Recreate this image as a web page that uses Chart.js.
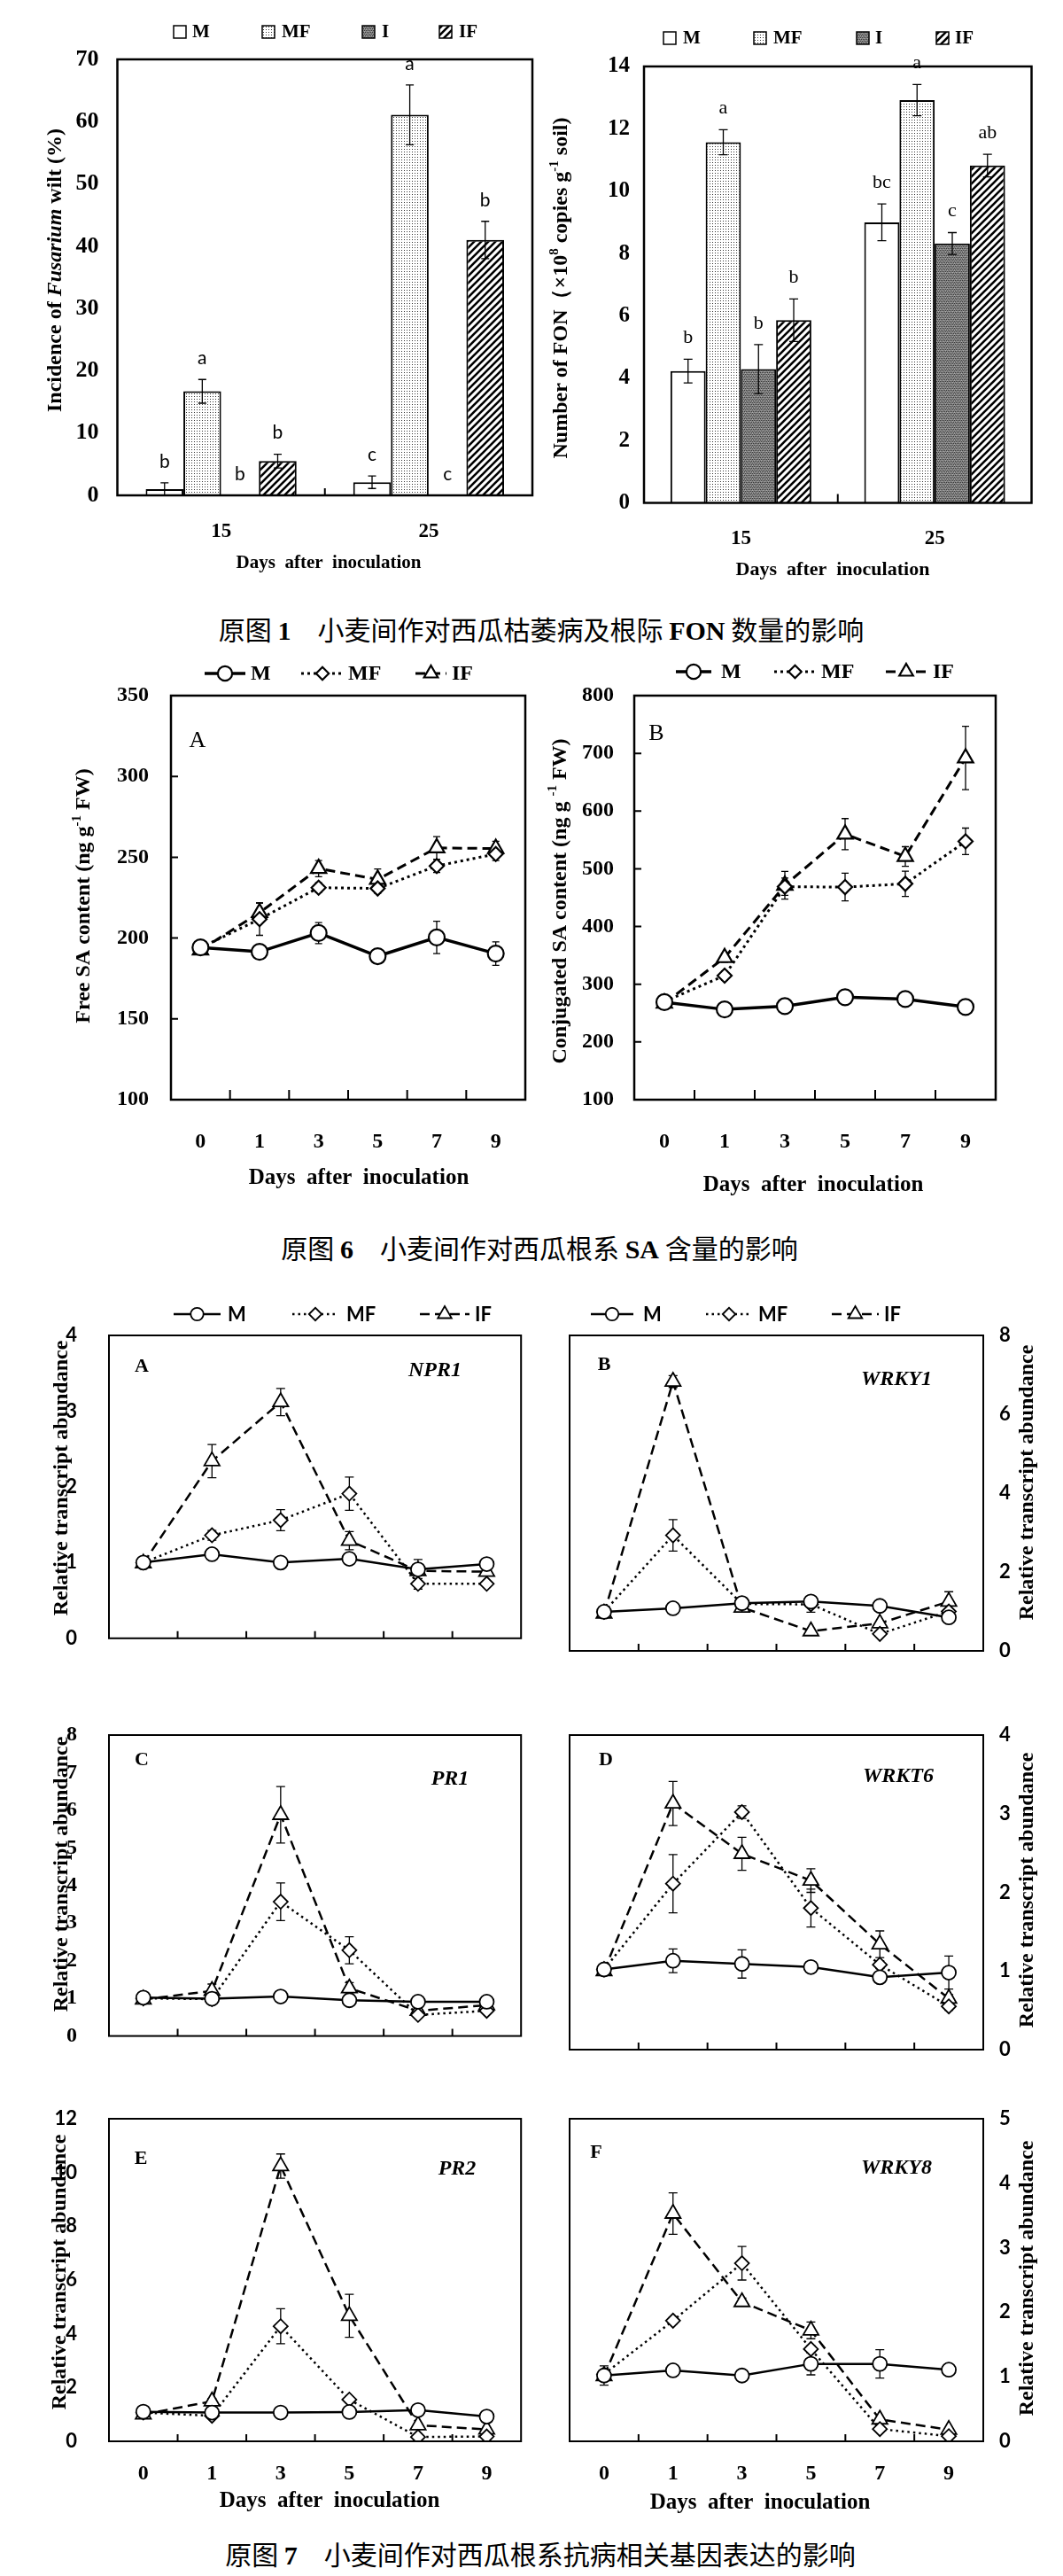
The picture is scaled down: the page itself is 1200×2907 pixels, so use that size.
<!DOCTYPE html>
<html><head><meta charset="utf-8"><title>Figures</title>
<script src="https://cdn.jsdelivr.net/npm/chart.js@4.4.1/dist/chart.umd.min.js"></script>
<style>
html,body{margin:0;padding:0;background:#fff;}
#page{position:relative;width:1200px;height:2907px;background:#fff;overflow:hidden;}
#page canvas{position:absolute;}
.cap{position:absolute;transform:translate(-50%,-50%);white-space:nowrap;font-family:"Noto Sans CJK SC",sans-serif;font-size:30px;line-height:1;color:#000;}
.cap b{font-family:"Liberation Serif",serif;font-weight:bold;}
</style></head><body><div id="page">
<div class="cap" style="left:611px;top:710px">原图 <b>1</b>　小麦间作对西瓜枯萎病及根际 <b>FON</b> 数量的影响</div>
<div class="cap" style="left:609px;top:1408px">原图 <b>6</b>　小麦间作对西瓜根系 <b>SA</b> 含量的影响</div>
<div class="cap" style="left:610px;top:2882px">原图 <b>7</b>　小麦间作对西瓜根系抗病相关基因表达的影响</div>
</div>
<script>
// ================= DATA =================
const barDays = ['15', '25'];
const barNames = ['M', 'MF', 'I', 'IF'];
// Fig 1 left: incidence of Fusarium wilt (%)
const wiltM = [1.0, 2.1];
const wiltMF = [16.7, 61.1];
const wiltI = [0, 0];
const wiltIF = [5.5, 41.0];
const wiltErrM = [1.0, 1.0];
const wiltErrMF = [1.9, 4.8];
const wiltErrI = [0, 0];
const wiltErrIF = [1.1, 3.0];
const wiltLetM = ['b', 'c'];
const wiltLetMF = ['a', 'a'];
const wiltLetI = ['b', 'c'];
const wiltLetIF = ['b', 'b'];
const wiltRange = [0, 70, 10];
// Fig 1 right: number of FON
const fonM = [4.23, 9.0];
const fonMF = [11.57, 12.92];
const fonI = [4.29, 8.32];
const fonIF = [5.86, 10.82];
const fonErrM = [0.38, 0.59];
const fonErrMF = [0.40, 0.50];
const fonErrI = [0.79, 0.35];
const fonErrIF = [0.68, 0.36];
const fonLetM = ['b', 'bc'];
const fonLetMF = ['a', 'a'];
const fonLetI = ['b', 'c'];
const fonLetIF = ['b', 'ab'];
const fonRange = [0, 14, 2];

const days = ['0', '1', '3', '5', '7', '9'];
const lineNames = ['M', 'MF', 'IF'];
// Fig 6 A free SA
const freeM = [194.2, 191.5, 203.1, 188.8, 200.4, 190.4];
const freeMF = [194.0, 211.7, 231.2, 230.7, 244.6, 252.0];
const freeIF = [192.6, 215.7, 243.0, 236.3, 255.8, 255.4];
const freeErrM = [2, 2, 6.5, 2, 10, 7.3];
const freeErrMF = [2, 10, 3, 3, 4, 4];
const freeErrIF = [2, 6, 5, 6.5, 7, 4.5];
const freeRange = [100, 350, 50];
// Fig 6 B conjugated SA
const conjM = [269, 256.4, 262, 277.5, 274.4, 260.7];
const conjMF = [270, 315, 469, 468.3, 474, 547.5];
const conjIF = [267, 346, 471.4, 560, 521.3, 692];
const conjErrM = [4, 12, 5, 5, 5, 5];
const conjErrMF = [3, 8, 15, 24, 22, 23];
const conjErrIF = [3, 8, 24, 27, 17, 55];
const conjRange = [100, 800, 100];
// Fig 7 A NPR1
const npr1M = [1.0, 1.11, 1.0, 1.05, 0.91, 0.98];
const npr1MF = [1.0, 1.36, 1.56, 1.91, 0.72, 0.72];
const npr1IF = [0.99, 2.34, 3.12, 1.29, 0.89, 0.88];
const npr1ErrM = [0.02, 0.05, 0.02, 0.03, 0.03, 0.03];
const npr1ErrMF = [0.02, 0.065, 0.14, 0.22, 0.07, 0.03];
const npr1ErrIF = [0.02, 0.22, 0.18, 0.12, 0.15, 0.03];
const npr1Range = [0, 4, 1];
// Fig 7 B WRKY1
const wrky1M = [0.99, 1.08, 1.21, 1.25, 1.14, 0.85];
const wrky1MF = [0.99, 2.93, 1.19, 1.18, 0.43, 1.0];
const wrky1IF = [0.95, 6.83, 1.1, 0.5, 0.7, 1.25];
const wrky1ErrM = [0.02, 0.03, 0.03, 0.05, 0.05, 0.03];
const wrky1ErrMF = [0.02, 0.4, 0.03, 0.2, 0.05, 0.05];
const wrky1ErrIF = [0.02, 0.15, 0.03, 0.03, 0.05, 0.25];
const wrky1Range = [0, 8, 2];
// Fig 7 C PR1
const pr1M = [1.02, 0.99, 1.05, 0.95, 0.91, 0.91];
const pr1MF = [1.0, 0.98, 3.57, 2.28, 0.56, 0.67];
const pr1IF = [0.97, 1.2, 5.88, 1.27, 0.67, 0.82];
const pr1ErrM = [0.02, 0.03, 0.03, 0.03, 0.03, 0.03];
const pr1ErrMF = [0.02, 0.1, 0.5, 0.36, 0.05, 0.05];
const pr1ErrIF = [0.02, 0.18, 0.75, 0.15, 0.05, 0.05];
const pr1Range = [0, 8, 1];
// Fig 7 D WRKT6
const wrkt6M = [1.02, 1.13, 1.09, 1.05, 0.92, 0.98];
const wrkt6MF = [1.02, 2.11, 3.02, 1.8, 1.08, 0.55];
const wrkt6IF = [1.0, 3.13, 2.49, 2.15, 1.34, 0.65];
const wrkt6ErrM = [0.02, 0.15, 0.18, 0.02, 0.02, 0.21];
const wrkt6ErrMF = [0.02, 0.37, 0.08, 0.24, 0.05, 0.05];
const wrkt6ErrIF = [0.02, 0.28, 0.21, 0.15, 0.17, 0.05];
const wrkt6Range = [0, 4, 1];
// Fig 7 E PR2
const pr2M = [1.1, 1.07, 1.07, 1.09, 1.16, 0.92];
const pr2MF = [1.07, 0.95, 4.28, 1.55, 0.16, 0.18];
const pr2IF = [1.0, 1.49, 10.24, 4.67, 0.6, 0.44];
const pr2ErrM = [0.05, 0.05, 0.05, 0.05, 0.05, 0.05];
const pr2ErrMF = [0.05, 0.05, 0.65, 0.1, 0.05, 0.05];
const pr2ErrIF = [0.05, 0.1, 0.45, 0.8, 0.05, 0.05];
const pr2Range = [0, 12, 2];
// Fig 7 F WRKY8
const wrky8M = [1.02, 1.1, 1.02, 1.2, 1.2, 1.11];
const wrky8MF = [1.04, 1.87, 2.76, 1.43, 0.19, 0.08];
const wrky8IF = [1.01, 3.53, 2.16, 1.72, 0.34, 0.18];
const wrky8ErrM = [0.15, 0.07, 0.02, 0.17, 0.22, 0.02];
const wrky8ErrMF = [0.02, 0.05, 0.26, 0.05, 0.02, 0.02];
const wrky8ErrIF = [0.02, 0.32, 0.06, 0.13, 0.02, 0.02];
const wrky8Range = [0, 5, 1];

// ================= HELPERS =================
const page = document.getElementById('page');
const SERIF = '"Liberation Serif","Times New Roman",serif';
const SANS = 'Lato,"Open Sans","Liberation Sans",sans-serif';
Chart.defaults.color = '#000';
Chart.defaults.font.family = SERIF;
const fo = (size, weight, style, family) => ({size, weight: weight || 'bold', style: style || 'normal', family: family || SERIF});
const fs = f => `${f.style} ${f.weight} ${f.size}px ${f.family}`;

function makePattern(kind) {
  const c = document.createElement('canvas');
  const g = c.getContext('2d');
  if (kind === 'dots') {
    c.width = c.height = 3; g.fillStyle = '#fff'; g.fillRect(0, 0, 3, 3);
    g.fillStyle = '#333'; g.fillRect(0, 0, 1, 1);
  } else if (kind === 'dark') {
    c.width = c.height = 4; g.fillStyle = '#858585'; g.fillRect(0, 0, 4, 4);
    g.fillStyle = '#3a3a3a'; [[0,0],[2,0],[1,2],[3,2]].forEach(p => g.fillRect(p[0], p[1], 1, 1));
    g.fillStyle = '#aaaaaa'; [[1,1],[3,3]].forEach(p => g.fillRect(p[0], p[1], 1, 1));
  } else {
    c.width = c.height = 8; g.fillStyle = '#fff'; g.fillRect(0, 0, 8, 8);
    g.strokeStyle = '#000'; g.lineWidth = 2.6; g.beginPath();
    g.moveTo(-2, 10); g.lineTo(10, -2); g.moveTo(-2, 2); g.lineTo(2, -2); g.moveTo(6, 10); g.lineTo(10, 6); g.stroke();
  }
  return g.createPattern(c, 'repeat');
}
const barFills = ['#ffffff', makePattern('dots'), makePattern('dark'), makePattern('hatch')];

function marker(ctx, style, x, y, r) {
  ctx.beginPath();
  if (style === 'circle') ctx.arc(x, y, r, 0, Math.PI * 2);
  else if (style === 'rectRot') { ctx.moveTo(x - r, y); ctx.lineTo(x, y - r); ctx.lineTo(x + r, y); ctx.lineTo(x, y + r); ctx.closePath(); }
  else { for (let k = 0; k < 3; k++) { const a = k * 2 * Math.PI / 3; const px = x + Math.sin(a) * r, py = y - Math.cos(a) * r; k ? ctx.lineTo(px, py) : ctx.moveTo(px, py); } ctx.closePath(); }
  ctx.fillStyle = '#fff'; ctx.fill(); ctx.strokeStyle = '#000'; ctx.stroke();
}

function drawRich(ctx, parts, x, y, rot, align) {
  ctx.save();
  ctx.translate(x, y); ctx.rotate(rot || 0);
  ctx.textBaseline = 'middle'; ctx.textAlign = 'left'; ctx.fillStyle = '#000';
  let w = 0;
  const ws = parts.map(p => { ctx.font = fs(p.font); const m = ctx.measureText(p.text).width; w += m; return m; });
  let cx = align === 'left' ? 0 : -w / 2;
  parts.forEach((p, i) => { ctx.font = fs(p.font); ctx.fillText(p.text, cx, p.dy || 0); cx += ws[i]; });
  ctx.restore();
}

const decoPlugin = {
  id: 'deco',
  afterDraw(chart, args, o) {
    const ctx = chart.ctx, ca = chart.chartArea, bx = o.box;
    const X = v => v - bx.x, Y = v => v - bx.y;
    const xs = chart.scales.x, ys = chart.scales.y;
    ctx.save();
    ctx.strokeStyle = '#000'; ctx.fillStyle = '#000'; ctx.setLineDash([]);
    ctx.lineWidth = o.tickWidth || 2;
    if (o.xTickLen) {
      ctx.beginPath();
      for (let i = 0; i < xs.ticks.length - 1; i++) {
        const x = (xs.getPixelForTick(i) + xs.getPixelForTick(i + 1)) / 2;
        ctx.moveTo(x, ca.bottom); ctx.lineTo(x, ca.bottom - o.xTickLen);
      }
      ctx.stroke();
    }
    if (o.yTickLen) {
      ctx.beginPath();
      ys.ticks.forEach(t => {
        if (t.value <= ys.min || t.value >= ys.max) return;
        const y = ys.getPixelForValue(t.value);
        ctx.moveTo(ca.left, y); ctx.lineTo(ca.left + o.yTickLen, y);
      });
      ctx.stroke();
    }
    ctx.lineWidth = o.frame || 2;
    ctx.strokeRect(ca.left, ca.top, ca.right - ca.left, ca.bottom - ca.top);
    if (o.legend) {
      const lg = o.legend, y = Y(lg.y);
      lg.items.forEach(it => {
        const ds = chart.data.datasets[it.ds];
        if (it.kind === 'box') {
          ctx.fillStyle = ds.backgroundColor; ctx.fillRect(X(it.x), y - 7, 14, 14);
          ctx.lineWidth = 1.5; ctx.strokeStyle = '#000'; ctx.strokeRect(X(it.x), y - 7, 14, 14);
        } else {
          ctx.strokeStyle = '#000'; ctx.lineWidth = ds.borderWidth; ctx.setLineDash(ds.borderDash || []);
          ctx.beginPath(); ctx.moveTo(X(it.x1), y); ctx.lineTo(X(it.x2), y); ctx.stroke();
          ctx.setLineDash([]); ctx.lineWidth = ds.pointBorderWidth;
          marker(ctx, ds.pointStyle, X((it.x1 + it.x2) / 2), y, ds.pointRadius * (lg.ms || 1));
        }
        ctx.fillStyle = '#000'; ctx.font = fs(lg.font); ctx.textAlign = 'left'; ctx.textBaseline = 'middle';
        ctx.fillText(ds.label, X(it.tx), y + 1);
      });
    }
    (o.texts || []).forEach(t => drawRich(ctx, t.parts, X(t.x), Y(t.y), t.rot || 0, t.align));
    ctx.restore();
  }
};

function drawErr(chart, o) {
  const ctx = chart.ctx, ys = chart.scales.y;
  ctx.save();
  ctx.strokeStyle = '#000'; ctx.lineWidth = o.lw || 1.3; ctx.setLineDash([]);
  chart.data.datasets.forEach((ds, i) => {
    const meta = chart.getDatasetMeta(i);
    meta.data.forEach((el, j) => {
      const v = ds.data[j], e = ds.errors ? ds.errors[j] : 0;
      const x = el.x;
      if (e) {
        const y1 = ys.getPixelForValue(v + e), y0 = ys.getPixelForValue(v - e), c = o.cap || 5;
        ctx.beginPath();
        ctx.moveTo(x, y1); ctx.lineTo(x, y0);
        ctx.moveTo(x - c, y1); ctx.lineTo(x + c, y1);
        ctx.moveTo(x - c, y0); ctx.lineTo(x + c, y0);
        ctx.stroke();
      }
      if (ds.letters && ds.letters[j]) {
        ctx.fillStyle = '#000'; ctx.font = fs(o.letterFont); ctx.textAlign = 'center'; ctx.textBaseline = 'middle';
        ctx.fillText(ds.letters[j], x, ys.getPixelForValue(v + e) - o.letterOff);
      }
    });
  });
  ctx.restore();
}
const errPlugin = {
  id: 'errbars',
  beforeDatasetsDraw(chart, args, o) { if (o.layer === 'before') drawErr(chart, o); },
  afterDatasetsDraw(chart, args, o) { if (o.layer !== 'before') drawErr(chart, o); }
};

function barSets(vals, errs, lets) {
  return barNames.map((n, i) => ({
    label: n, data: vals[i], errors: errs[i], letters: lets[i],
    backgroundColor: barFills[i], borderColor: '#000', borderWidth: 2,
    categoryPercentage: 0.727, barPercentage: 1.0
  }));
}
function lineSets(vals, errs, st) {
  const styles = [['circle', st.rc, []], ['rectRot', st.rd, st.dot], ['triangle', st.rt, st.dash]];
  return lineNames.map((n, i) => ({
    label: n, data: vals[i], errors: errs[i], borderColor: '#000', borderWidth: i === 0 ? st.lw0 : st.lw,
    borderDash: styles[i][2], fill: false, tension: 0,
    pointStyle: styles[i][0], pointRadius: styles[i][1], pointBackgroundColor: '#fff',
    pointBorderColor: '#000', pointBorderWidth: st.pw
  }));
}

function mk(spec) {
  const {box, area} = spec;
  const yPos = spec.yPos || 'left';
  const cv = document.createElement('canvas');
  cv.width = box.w; cv.height = box.h;
  cv.style.left = box.x + 'px'; cv.style.top = box.y + 'px';
  cv.style.width = box.w + 'px'; cv.style.height = box.h + 'px';
  page.appendChild(cv);
  const L = area.l - box.x, T = area.t - box.y, R = box.x + box.w - area.r, B = box.y + box.h - area.b;
  const left = yPos === 'left';
  return new Chart(cv.getContext('2d'), {
    type: spec.type,
    data: {labels: spec.labels, datasets: spec.datasets},
    options: {
      responsive: false, animation: false, devicePixelRatio: 1, events: [],
      layout: {padding: {top: T, bottom: 0, left: left ? 0 : L, right: left ? R : 0}},
      plugins: {
        legend: {display: false}, tooltip: {enabled: false}, title: {display: false},
        deco: Object.assign({box}, spec.deco),
        errbars: Object.assign({}, spec.err)
      },
      scales: {
        x: {type: 'category', offset: true, grid: {display: false}, border: {display: false},
            ticks: {display: !!spec.x.show, font: spec.x.font, color: '#000', padding: spec.x.pad || 0, maxRotation: 0, autoSkip: false},
            afterFit: s => { s.height = B; }},
        y: {type: 'linear', position: yPos, min: spec.y.range[0], max: spec.y.range[1],
            grid: {display: false}, border: {display: false},
            ticks: {stepSize: spec.y.range[2], font: spec.y.font, color: '#000', padding: spec.y.pad},
            afterFit: s => { s.width = left ? L : R; }}
      }
    },
    plugins: [decoPlugin, errPlugin]
  });
}

const t = (text, font, dy) => ({text, font, dy});
const supF = fo(15);

// ================= FIG 1 =================
mk({
  type: 'bar', labels: barDays,
  box: {x: 0, y: 0, w: 612, h: 668}, area: {l: 132.5, t: 67, r: 601, b: 559},
  datasets: barSets([wiltM, wiltMF, wiltI, wiltIF], [wiltErrM, wiltErrMF, wiltErrI, wiltErrIF], [wiltLetM, wiltLetMF, wiltLetI, wiltLetIF]),
  y: {range: wiltRange, font: fo(26), pad: 13},
  x: {show: true, font: fo(23), pad: 19.2},
  err: {layer: 'after', cap: 4.5, lw: 1.3, letterFont: fo(21, 'normal', 'normal', SANS), letterOff: 24},
  deco: {frame: 2.5, xTickLen: 8,
    legend: {y: 36, font: fo(21), items: [{ds: 0, kind: 'box', x: 196, tx: 217}, {ds: 1, kind: 'box', x: 296, tx: 318}, {ds: 2, kind: 'box', x: 409, tx: 431}, {ds: 3, kind: 'box', x: 496, tx: 518}]},
    texts: [
      {x: 63, y: 305, rot: -Math.PI / 2, parts: [t('Incidence of ', fo(24)), t('Fusarium', fo(24, 'bold', 'italic')), t(' wilt (%)', fo(24))]},
      {x: 371, y: 636, parts: [t('Days  after  inoculation', fo(21))]}
    ]}
});
mk({
  type: 'bar', labels: barDays,
  box: {x: 600, y: 0, w: 600, h: 668}, area: {l: 727, t: 75, r: 1164.5, b: 567.5},
  datasets: barSets([fonM, fonMF, fonI, fonIF], [fonErrM, fonErrMF, fonErrI, fonErrIF], [fonLetM, fonLetMF, fonLetI, fonLetIF]),
  y: {range: fonRange, font: fo(25), pad: 8},
  x: {show: true, font: fo(23), pad: 18.7},
  err: {layer: 'after', cap: 5, lw: 1.3, letterFont: fo(22, 'normal'), letterOff: 24},
  deco: {frame: 2.5, xTickLen: 10,
    legend: {y: 43, font: fo(21), items: [{ds: 0, kind: 'box', x: 749, tx: 771}, {ds: 1, kind: 'box', x: 851, tx: 873}, {ds: 2, kind: 'box', x: 967, tx: 988}, {ds: 3, kind: 'box', x: 1057, tx: 1078}]},
    texts: [
      {x: 634, y: 325, rot: -Math.PI / 2, parts: [t('Number of FON', fo(24)), t('（×10', fo(24)), t('8', supF, -8), t(' copies g', fo(24)), t('-1', supF, -8), t(' soil)', fo(24))]},
      {x: 940, y: 643, parts: [t('Days  after  inoculation', fo(22))]}
    ]}
});

// ================= FIG 6 =================
const st6 = {rc: 9, rd: 8, rt: 10, lw0: 3.5, lw: 3, pw: 2.2, dot: [3, 4], dash: [11, 6]};
mk({
  type: 'line', labels: days,
  box: {x: 0, y: 730, w: 612, h: 640}, area: {l: 193, t: 785, r: 593, b: 1241},
  datasets: lineSets([freeM, freeMF, freeIF], [freeErrM, freeErrMF, freeErrIF], st6),
  y: {range: freeRange, font: fo(24), pad: 17},
  x: {show: true, font: fo(24), pad: 25.6},
  err: {layer: 'before', cap: 4, lw: 1.3},
  deco: {frame: 2.5, xTickLen: 11, yTickLen: 8,
    legend: {y: 760, font: fo(24), ms: 0.9, items: [{ds: 0, x1: 231, x2: 277, tx: 283}, {ds: 1, x1: 340, x2: 388, tx: 393}, {ds: 2, x1: 469, x2: 504, tx: 510}]},
    texts: [
      {x: 95, y: 1011, rot: -Math.PI / 2, parts: [t('Free SA content (ng g', fo(24)), t('-1', supF, -8), t(' FW)', fo(24))]},
      {x: 223, y: 836, parts: [t('A', fo(26, 'normal'))]},
      {x: 405, y: 1330, parts: [t('Days  after  inoculation', fo(25))]}
    ]}
});
mk({
  type: 'line', labels: days,
  box: {x: 600, y: 730, w: 600, h: 640}, area: {l: 716, t: 785, r: 1124, b: 1241},
  datasets: lineSets([conjM, conjMF, conjIF], [conjErrM, conjErrMF, conjErrIF], st6),
  y: {range: conjRange, font: fo(24), pad: 15},
  x: {show: true, font: fo(24), pad: 25.6},
  err: {layer: 'before', cap: 4, lw: 1.3},
  deco: {frame: 2.5, xTickLen: 11, yTickLen: 8,
    legend: {y: 758, font: fo(24), ms: 0.9, items: [{ds: 0, x1: 763, x2: 803, tx: 814}, {ds: 1, x1: 874, x2: 921, tx: 927}, {ds: 2, x1: 1000, x2: 1046, tx: 1053}]},
    texts: [
      {x: 632.5, y: 1017, rot: -Math.PI / 2, parts: [t('Conjugated SA content (ng g ', fo(24)), t('-1', supF, -8), t(' FW)', fo(24))]},
      {x: 741, y: 828, parts: [t('B', fo(26, 'normal'))]},
      {x: 918, y: 1338, parts: [t('Days  after  inoculation', fo(25))]}
    ]}
});

// ================= FIG 7 =================
const st7 = {rc: 8, rd: 8, rt: 10, lw0: 2.5, lw: 2.5, pw: 1.8, dot: [2.5, 4], dash: [11, 6]};
const sansB = fo(22, 'bold', 'normal', SANS);
const relTitle = [t('Relative transcript abundance', fo(24))];
const legL = {y: 1483, font: sansB, ms: 0.9, items: [{ds: 0, x1: 196, x2: 249, tx: 257}, {ds: 1, x1: 330, x2: 382, tx: 391}, {ds: 2, x1: 474, x2: 530, tx: 536}]};
const legR = {y: 1483, font: sansB, ms: 0.9, items: [{ds: 0, x1: 667, x2: 715, tx: 726}, {ds: 1, x1: 797, x2: 849, tx: 856}, {ds: 2, x1: 939, x2: 992, tx: 998}]};
const up = -Math.PI / 2;
const RR = 1110;

function gene(spec) {
  return mk(Object.assign({type: 'line', labels: days, err: {layer: 'before', cap: 5, lw: 1.3}}, spec));
}
gene({
  box: {x: 0, y: 1440, w: 600, h: 450}, area: {l: 123, t: 1507, r: 589, b: 1863},
  datasets: lineSets([npr1M, npr1MF, npr1IF], [npr1ErrM, npr1ErrMF, npr1ErrIF], st7),
  y: {range: npr1Range, font: sansB, pad: 28}, x: {show: false},
  deco: {frame: 2, xTickLen: 8, legend: legL, texts: [
    {x: 70, y: 1668, rot: up, parts: relTitle},
    {x: 160, y: 1542, parts: [t('A', fo(22))]},
    {x: 491, y: 1547, parts: [t('NPR1', fo(24, 'bold', 'italic'))]}]}
});
gene({
  yPos: 'right',
  box: {x: 600, y: 1440, w: 600, h: 450}, area: {l: 643, t: 1507, r: RR, b: 1863},
  datasets: lineSets([wrky1M, wrky1MF, wrky1IF], [wrky1ErrM, wrky1ErrMF, wrky1ErrIF], st7),
  y: {range: wrky1Range, font: sansB, pad: 10}, x: {show: false},
  deco: {frame: 2, xTickLen: 8, legend: legR, texts: [
    {x: 1160, y: 1673, rot: up, parts: relTitle},
    {x: 682, y: 1540, parts: [t('B', fo(22))]},
    {x: 1012, y: 1557, parts: [t('WRKY1', fo(24, 'bold', 'italic'))]}]}
});
gene({
  box: {x: 0, y: 1900, w: 600, h: 440}, area: {l: 123, t: 1958, r: 589, b: 2313},
  datasets: lineSets([pr1M, pr1MF, pr1IF], [pr1ErrM, pr1ErrMF, pr1ErrIF], st7),
  y: {range: pr1Range, font: fo(24), pad: 28}, x: {show: false},
  deco: {frame: 2, xTickLen: 8, texts: [
    {x: 70, y: 2115, rot: up, parts: relTitle},
    {x: 160, y: 1986, parts: [t('C', fo(22))]},
    {x: 508, y: 2008, parts: [t('PR1', fo(24, 'bold', 'italic'))]}]}
});
gene({
  yPos: 'right',
  box: {x: 600, y: 1900, w: 600, h: 440}, area: {l: 643, t: 1958, r: RR, b: 2313},
  datasets: lineSets([wrkt6M, wrkt6MF, wrkt6IF], [wrkt6ErrM, wrkt6ErrMF, wrkt6ErrIF], st7),
  y: {range: wrkt6Range, font: sansB, pad: 10}, x: {show: false},
  deco: {frame: 2, xTickLen: 8, texts: [
    {x: 1160, y: 2133, rot: up, parts: relTitle},
    {x: 684, y: 1986, parts: [t('D', fo(22))]},
    {x: 1014, y: 2005, parts: [t('WRKT6', fo(24, 'bold', 'italic'))]}]}
});
gene({
  box: {x: 0, y: 2340, w: 600, h: 520}, area: {l: 123, t: 2391, r: 589, b: 2755},
  datasets: lineSets([pr2M, pr2MF, pr2IF], [pr2ErrM, pr2ErrMF, pr2ErrIF], st7),
  y: {range: pr2Range, font: sansB, pad: 28}, x: {show: true, font: fo(24), pad: 14.6},
  deco: {frame: 2, xTickLen: 8, texts: [
    {x: 68, y: 2564, rot: up, parts: relTitle},
    {x: 159, y: 2436, parts: [t('E', fo(22))]},
    {x: 516, y: 2448, parts: [t('PR2', fo(24, 'bold', 'italic'))]},
    {x: 372, y: 2823, parts: [t('Days  after  inoculation', fo(25))]}]}
});
gene({
  yPos: 'right',
  box: {x: 600, y: 2340, w: 600, h: 520}, area: {l: 643, t: 2391, r: RR, b: 2755},
  datasets: lineSets([wrky8M, wrky8MF, wrky8IF], [wrky8ErrM, wrky8ErrMF, wrky8ErrIF], st7),
  y: {range: wrky8Range, font: sansB, pad: 10}, x: {show: true, font: fo(24), pad: 14.6},
  deco: {frame: 2, xTickLen: 8, texts: [
    {x: 1160, y: 2571, rot: up, parts: relTitle},
    {x: 673, y: 2429, parts: [t('F', fo(22))]},
    {x: 1012, y: 2447, parts: [t('WRKY8', fo(24, 'bold', 'italic'))]},
    {x: 858, y: 2825, parts: [t('Days  after  inoculation', fo(25))]}]}
});
</script></body></html>
